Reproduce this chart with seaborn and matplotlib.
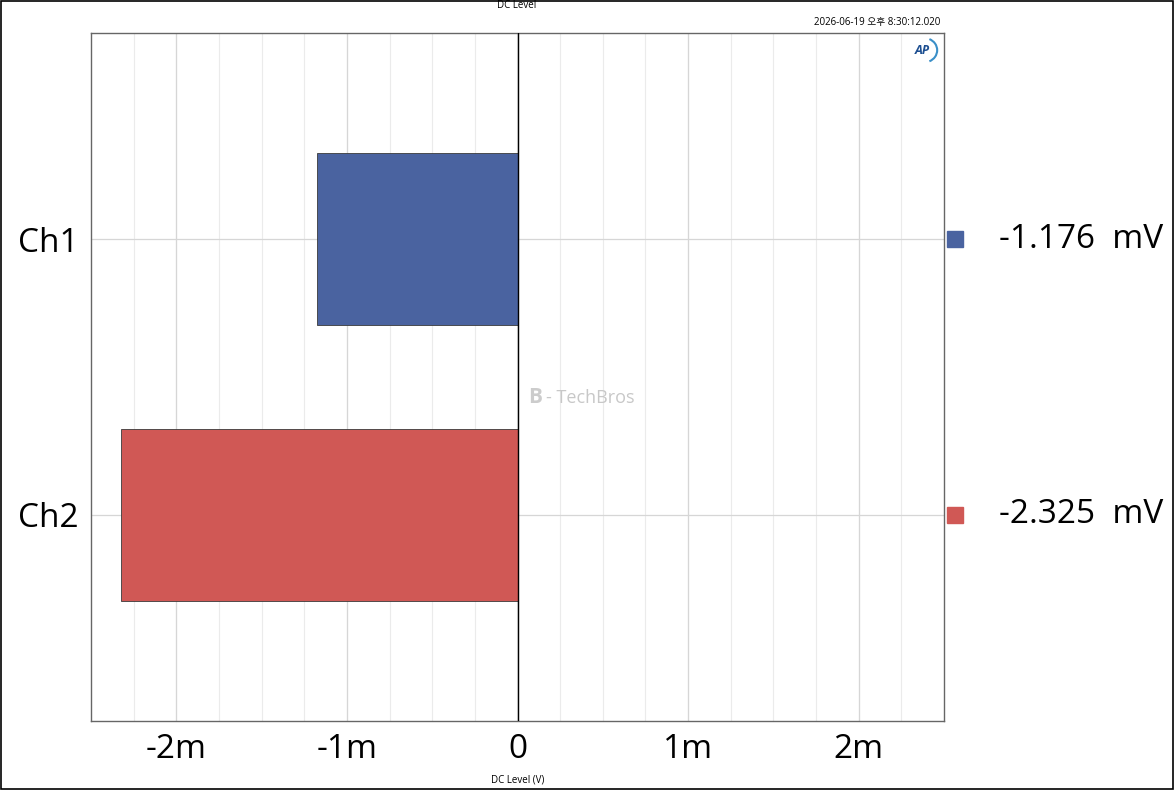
import numpy as np
import pandas as pd
import seaborn as sns
import matplotlib.pyplot as plt
from matplotlib.patches import Rectangle, Arc

# Data
channels = ['Ch1', 'Ch2']
dc_level_mv = [-1.176, -2.325]
bar_colors = ['#4A63A0', '#D05855']
major_ticks = [-2e-3, -1e-3, 0, 1e-3, 2e-3]
major_labels = ['-2m', '-1m', '0', '1m', '2m']

df = pd.DataFrame({
    'Channel': channels,
    'DC Level (V)': np.array(dc_level_mv) / 1000.0,
})

sns.set_style('white')
plt.rcParams['font.family'] = ['Open Sans', 'Noto Sans CJK KR', 'DejaVu Sans']
plt.rcParams['text.color'] = 'black'
plt.rcParams['axes.labelcolor'] = 'black'

fig = plt.figure(figsize=(11.74, 7.90), dpi=100)
ax = fig.add_axes([91 / 1174, 69 / 790, 853 / 1174, 688 / 790])

sns.barplot(
    data=df, x='DC Level (V)', y='Channel', hue='Channel',
    palette=bar_colors, orient='h', width=0.625, legend=False,
    edgecolor='#3a3a3a', linewidth=0.6, saturation=1, ax=ax, zorder=3
)

ax.set_xlim(-2.5e-3, 2.5e-3)
ax.set_ylim(1.75, -0.75)

# grid: minor every 0.25m, major every 1m
minor = np.arange(-2.25e-3, 2.5e-3, 0.25e-3)
for xv in minor:
    ax.axvline(xv, color='#ebebeb', lw=0.8, zorder=0)
for xv in major_ticks:
    ax.axvline(xv, color='#d6d6d6', lw=0.9, zorder=0)
for yv in range(len(channels)):
    ax.axhline(yv, color='#d6d6d6', lw=0.9, zorder=0)
ax.axvline(0, color='black', lw=1.0, zorder=4)

ax.set_xticks(major_ticks)
ax.set_xticklabels(major_labels)
ax.tick_params(axis='both', length=0, labelsize=24, pad=9, colors='black')
ax.set_xlabel('DC Level (V)', fontsize=7, labelpad=6, color='black')
ax.set_ylabel('')
for s in ax.spines.values():
    s.set_color('#666666')
    s.set_linewidth(1.0)

# value legend on the right
for i, (v, c) in enumerate(zip(dc_level_mv, bar_colors)):
    yc = 1 - (i + 0.75) / 2.5
    ax.add_patch(Rectangle((1.0035, yc - 0.0115), 0.0188, 0.023,
                           transform=ax.transAxes, color=c, clip_on=False))
    ax.text(1.2567, yc, f'{v:.3f}  mV', transform=ax.transAxes,
            ha='right', va='center', fontsize=24, color='black')

# header texts
fig.text(517 / 1174, 1 - 5 / 790, 'DC Level', ha='center', va='center', fontsize=7,
         color='black')
fig.text(940 / 1174, 1 - 22 / 790, '2026-06-19 오후 8:30:12.020', ha='right',
         va='center', fontsize=7, color='black')

# AP logo
ax.text(0.975, 0.975, 'AP', transform=ax.transAxes, ha='center', va='center',
        fontsize=9, fontweight='bold', style='italic', color='#1d4f91')
ax.add_patch(Arc((0.977, 0.975), 0.03, 0.035, theta1=-70, theta2=70,
                 transform=ax.transAxes, color='#3a8fc8', lw=1.5))

# watermark
ax.text(0.513, 0.47, 'B', transform=ax.transAxes, ha='left', va='center',
        fontsize=15, fontweight='bold', color='#cccccc', zorder=5)
ax.text(0.533, 0.47, '- TechBros', transform=ax.transAxes, ha='left', va='center',
        fontsize=13, color='#c8c8c8', zorder=5)

# outer frame
fig.patches.append(Rectangle((0.0008, 0.001), 0.9985, 0.998, transform=fig.transFigure,
                             fill=False, edgecolor='black', lw=1.2))

fig.savefig('out.png', dpi=100)
